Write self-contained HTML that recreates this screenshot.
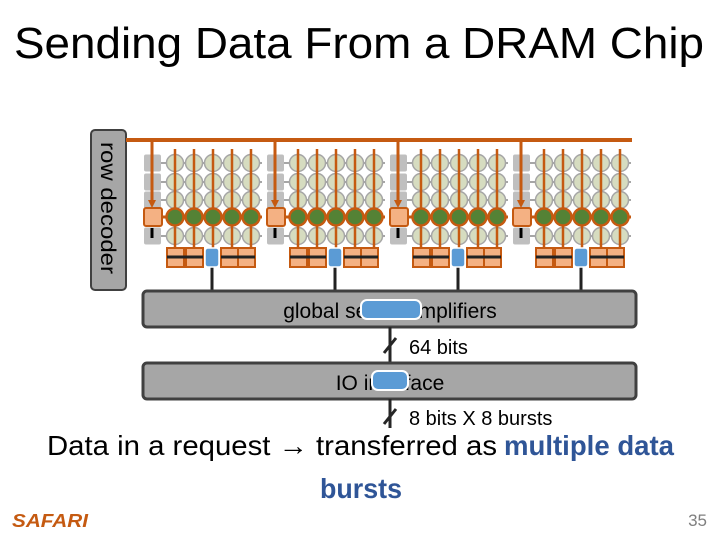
<!DOCTYPE html>
<html><head><style>
html,body{margin:0;padding:0;background:#fff;}
svg{display:block;}
</style></head><body>
<svg id="s" width="720" height="540" viewBox="0 0 720 540" xmlns="http://www.w3.org/2000/svg" font-family="Liberation Sans, sans-serif">
<defs>
<marker id="ah" markerWidth="8" markerHeight="8" refX="4" refY="4" orient="auto" markerUnits="userSpaceOnUse"><path d="M0,0 L8,4 L0,8 z" fill="#c55a11"/></marker>
</defs>
<text x="14" y="58" font-size="44" fill="#000" textLength="690" lengthAdjust="spacingAndGlyphs">Sending Data From a DRAM Chip</text>
<rect x="91" y="130" width="35" height="160" rx="4" fill="#a6a6a6" stroke="#404040" stroke-width="2"/>
<text transform="translate(101,208) rotate(90)" text-anchor="middle" font-size="21" fill="#000" textLength="132" lengthAdjust="spacingAndGlyphs">row decoder</text>
<line x1="126" y1="140" x2="632" y2="140" stroke="#c55a11" stroke-width="4"/>
<g id="mats"></g>
<rect x="143" y="291" width="493" height="36" rx="4" fill="#a6a6a6" stroke="#404040" stroke-width="3"/>
<text x="390" y="318" text-anchor="middle" font-size="21" fill="#000">global sense amplifiers</text>
<rect x="361" y="300" width="60" height="19" rx="6" fill="#5b9bd5" stroke="#fff" stroke-width="2"/>
<line x1="390" y1="327" x2="390" y2="363" stroke="#262626" stroke-width="3"/>
<line x1="384" y1="353" x2="396" y2="338" stroke="#262626" stroke-width="3"/>
<text x="409" y="354" font-size="20" fill="#000">64 bits</text>
<rect x="143" y="363" width="493" height="36" rx="4" fill="#a6a6a6" stroke="#404040" stroke-width="3"/>
<text x="390" y="390" text-anchor="middle" font-size="21" fill="#000">IO interface</text>
<rect x="372" y="371" width="36" height="19" rx="6" fill="#5b9bd5" stroke="#fff" stroke-width="2"/>
<line x1="390" y1="399" x2="390" y2="428" stroke="#262626" stroke-width="3"/>
<line x1="384" y1="424" x2="396" y2="409" stroke="#262626" stroke-width="3"/>
<text x="409" y="425" font-size="20" fill="#000">8 bits X 8 bursts</text>
<text x="47" y="455" font-size="28" fill="#000" textLength="450" lengthAdjust="spacingAndGlyphs">Data in a request → transferred as</text>
<text x="504" y="455" font-size="28" font-weight="bold" fill="#2f5597" textLength="170" lengthAdjust="spacingAndGlyphs">multiple data</text>
<text x="320" y="498" font-size="28" font-weight="bold" fill="#2f5597" textLength="82" lengthAdjust="spacingAndGlyphs">bursts</text>
<text x="12" y="527" font-size="18" font-weight="bold" font-style="italic" fill="#c55a11" textLength="76" lengthAdjust="spacingAndGlyphs">SAFARI</text>
<text x="707" y="526" text-anchor="end" font-size="17" fill="#7f7f7f">35</text>
</svg>
<script>
var g=document.getElementById('mats'),h='';
function e(t,a){var s='<'+t;for(var k in a)s+=' '+k+'="'+a[k]+'"';return s+'/>';}
for(var m=0;m<4;m++){var o=m*123;
 var rows=[163,182,200,217,236];
 rows.forEach(function(y,ri){
  if(ri!=3){h+=e('line',{x1:161+o,y1:y,x2:262+o,y2:y,stroke:'#a6a6a6','stroke-width':2});
  h+=e('rect',{x:144+o,y:y-8.5,width:17,height:17,rx:2,fill:'#bfbfbf'});}
 });
 for(var i=0;i<5;i++){var cx=175+19*i+o;
  rows.forEach(function(y,ri){ if(ri!=3) h+=e('circle',{cx:cx,cy:y,r:8.5,fill:'#d6dcc0',stroke:'#a6a6a6','stroke-width':1.5});});
 }
 h+=e('line',{x1:162+o,y1:217,x2:262+o,y2:217,stroke:'#c55a11','stroke-width':3});
 for(var i=0;i<5;i++){var cx=175+19*i+o;
  h+=e('line',{x1:cx,y1:149,x2:cx,y2:250,stroke:'#c55a11','stroke-width':2.5});
  h+=e('circle',{cx:cx,cy:217,r:8.5,fill:'#548235',stroke:'#c55a11','stroke-width':2.5});
 }
 h+=e('line',{x1:152+o,y1:140,x2:152+o,y2:204,stroke:'#c55a11','stroke-width':3,'marker-end':'url(#ah)'});
 h+=e('rect',{x:144+o,y:208,width:18,height:18,rx:2,fill:'#f4b183',stroke:'#c55a11','stroke-width':2});
 h+=e('line',{x1:152+o,y1:228,x2:152+o,y2:238,stroke:'#000','stroke-width':3});
 [167,186,221,238].forEach(function(x){h+=e('rect',{x:x+o,y:248,width:17,height:19,fill:'#f4b183',stroke:'#c55a11','stroke-width':2});});
 h+=e('line',{x1:167+o,y1:257,x2:203+o,y2:257,stroke:'#222','stroke-width':3});
 h+=e('line',{x1:221+o,y1:257,x2:255+o,y2:257,stroke:'#222','stroke-width':3});
 h+=e('line',{x1:212+o,y1:266,x2:212+o,y2:292,stroke:'#222','stroke-width':3});
 h+=e('rect',{x:205+o,y:248,width:14,height:19,rx:3,fill:'#5b9bd5',stroke:'#fff','stroke-width':1.5});
}
g.innerHTML=h;
</script>
</body></html>
